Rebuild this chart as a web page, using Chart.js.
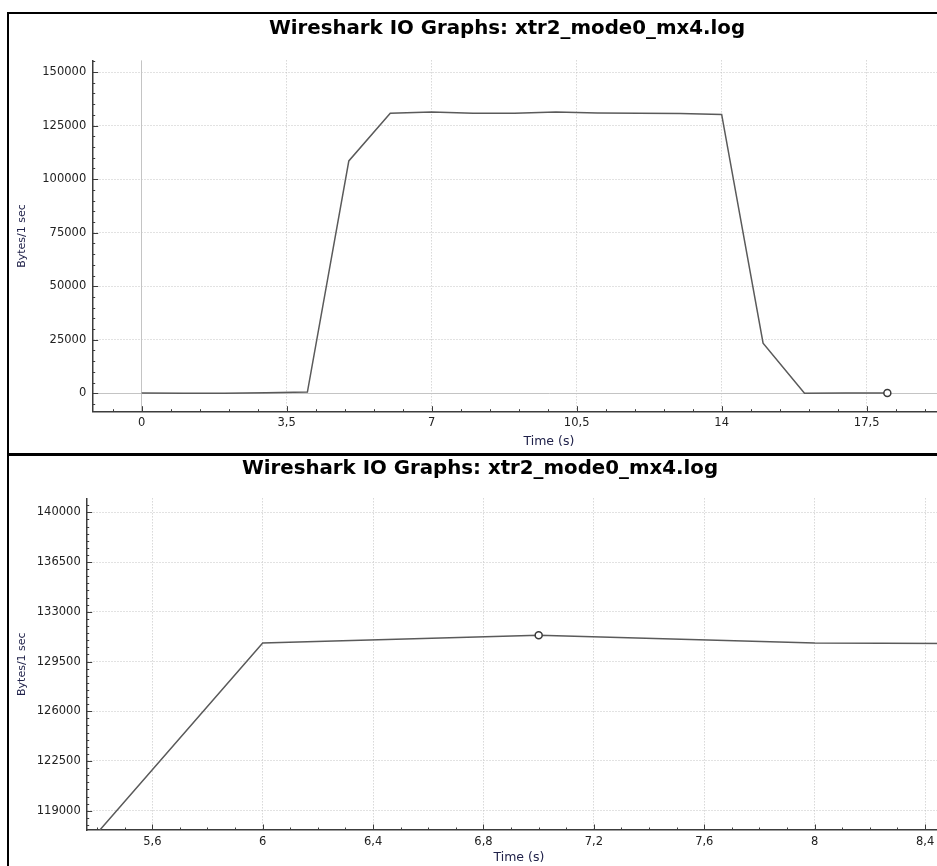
<!DOCTYPE html>
<html>
<head>
<meta charset="utf-8">
<title>Wireshark IO Graphs: xtr2_mode0_mx4.log</title>
<script src="https://cdn.jsdelivr.net/npm/chart.js@4.4.1/dist/chart.umd.min.js"></script>
<style>
  html, body { margin: 0; padding: 0; background: #fff; overflow: hidden; width: 937px; height: 866px; }
  .frame { position: absolute; left: 7px; border-left: 2px solid #000; }
  #topFrame { top: 12px; border-top: 2px solid #000; border-bottom: 3px solid #000; }
  #bottomFrame { top: 456px; }
  .box { position: relative; }
  #topFrame .box { width: 996px; height: 439px; }
  #bottomFrame .box { width: 942px; height: 415px; }
</style>
</head>
<body>
<div class="frame" id="topFrame"><div class="box"><canvas id="graficTop"></canvas></div></div>
<div class="frame" id="bottomFrame"><div class="box"><canvas id="graficBottom"></canvas></div></div>
<script>
// io graph data, one sample per second
const titulo = 'Wireshark IO Graphs: xtr2_mode0_mx4.log'
const tempos = [0, 1, 2, 3, 4, 5, 6, 7, 8, 9, 10, 11, 12, 13, 14, 15, 16, 17, 18]
const bytes = [120, 80, 60, 250, 600, 108500, 130800, 131350, 130800, 130750, 131300, 130850, 130750, 130700, 130200, 23400, 90, 160, 140]

// tick labels
const xTicksTop = [0, 3.5, 7, 10.5, 14, 17.5]
const yTicksTop = [0, 25000, 50000, 75000, 100000, 125000, 150000]
const xTicksBottom = [5.6, 6, 6.4, 6.8, 7.2, 7.6, 8, 8.4]
const yTicksBottom = [119000, 122500, 126000, 129500, 133000, 136500, 140000]

// tracer circle position (time)
const tracerTop = 18
const tracerBottom = 7

const corLinha = '#5a5a5a'
const corEixo = '#3c3c3c'
const corGrade = '#c4c4c4'

// small inward tick marks, like the qcustomplot axes
const innerTicks = {
    id: 'innerTicks',
    afterDraw(chart, args, opts) {
        const { ctx, chartArea: a, scales } = chart
        ctx.save()
        ctx.strokeStyle = corEixo
        ctx.lineWidth = 1
        const marca = (scale, valor, len) => {
            const p = Math.round(scale.getPixelForValue(valor)) + 0.5
            ctx.beginPath()
            if (scale.axis === 'x') {
                if (p < a.left || p > a.right) return
                ctx.moveTo(p, a.bottom)
                ctx.lineTo(p, a.bottom - len)
            } else {
                if (p < a.top || p > a.bottom) return
                ctx.moveTo(a.left, p)
                ctx.lineTo(a.left + len, p)
            }
            ctx.stroke()
        }
        for (const [scale, passo] of [[scales.x, opts.xMinor], [scales.y, opts.yMinor]]) {
            for (let i = Math.ceil(scale.min / passo); i * passo <= scale.max; i++) {
                marca(scale, i * passo, 2.5)
            }
            scale.ticks.forEach(t => marca(scale, t.value, 5.5))
        }
        ctx.restore()
    }
}

const virgula = v => String(v).replace('.', ',')

function criarGrafico(canvas, cfg) {
    return new Chart(canvas, {
        type: 'line',
        data: {
            datasets: [{
                data: tempos.map((t, i) => ({ x: t, y: bytes[i] })),
                borderColor: corLinha,
                borderWidth: 1.5,
                tension: 0,
                fill: false,
                pointRadius: ctx => (ctx.raw && ctx.raw.x === cfg.tracer ? 3.5 : 0),
                pointBorderColor: '#3a3a3a',
                pointBackgroundColor: '#ffffff',
                pointBorderWidth: 1.5
            }]
        },
        options: {
            responsive: true,
            maintainAspectRatio: false,
            animation: false,
            events: [],
            layout: { padding: 0, autoPadding: false },
            plugins: {
                legend: { display: false },
                tooltip: { enabled: false },
                title: {
                    display: true,
                    text: titulo,
                    color: '#000',
                    font: { family: 'DejaVu Sans', size: 19.8, weight: 'bold' },
                    padding: cfg.tituloPad
                },
                innerTicks: { xMinor: cfg.xMinor, yMinor: cfg.yMinor }
            },
            scales: {
                x: {
                    type: 'linear',
                    min: cfg.xMin,
                    max: cfg.xMax,
                    afterBuildTicks: s => { s.ticks = cfg.xTicks.map(v => ({ value: v })) },
                    afterFit: s => { s.height = cfg.xAlt },
                    grid: { color: corGrade, lineWidth: 1, drawTicks: false },
                    border: {
                        display: true, color: corEixo, width: 1.5,
                        dash: ctx => (ctx.tick && ctx.tick.value === 0 ? [] : [1, 2])
                    },
                    ticks: {
                        color: '#222', padding: 4.7, maxRotation: 0, autoSkip: false,
                        font: { family: 'DejaVu Sans', size: 11.5 },
                        callback: v => virgula(v)
                    },
                    title: {
                        display: true, text: 'Time (s)', color: '#20224a',
                        font: { family: 'DejaVu Sans', size: 12.5 },
                        padding: { top: 0, bottom: cfg.xTituloPad }
                    }
                },
                y: {
                    type: 'linear',
                    min: cfg.yMin,
                    max: cfg.yMax,
                    afterBuildTicks: s => { s.ticks = cfg.yTicks.map(v => ({ value: v })) },
                    afterFit: s => { s.width = cfg.yLarg },
                    grid: { color: corGrade, lineWidth: 1, drawTicks: false },
                    border: {
                        display: true, color: corEixo, width: 1.5,
                        dash: ctx => (ctx.tick && ctx.tick.value === 0 ? [] : [1, 2])
                    },
                    ticks: {
                        color: '#222', padding: cfg.yTickPad, autoSkip: false,
                        font: { family: 'DejaVu Sans', size: 11.5 },
                        callback: v => String(v)
                    },
                    title: {
                        display: true, text: 'Bytes/1 sec', color: '#20224a',
                        font: { family: 'DejaVu Sans', size: 11 },
                        padding: { top: 6.5, bottom: 0 }
                    }
                }
            }
        },
        plugins: [innerTicks]
    })
}

criarGrafico(document.getElementById('graficTop'), {
    tracer: tracerTop,
    xMin: -1.183, xMax: 20.84, xTicks: xTicksTop, xMinor: 0.7,
    yMin: -8580, yMax: 155460, yTicks: yTicksTop, yMinor: 5000,
    yLarg: 83.7, xAlt: 41.3, yTickPad: 6.5, xTituloPad: 3.5,
    tituloPad: { top: 3.3, bottom: 19.3 }
})

criarGrafico(document.getElementById('graficBottom'), {
    tracer: tracerBottom,
    xMin: 5.3623, xMax: 8.494, xTicks: xTicksBottom, xMinor: 0.1,
    yMin: 117643, yMax: 140984, yTicks: yTicksBottom, yMinor: 500,
    yLarg: 77.7, xAlt: 41, yTickPad: 6, xTituloPad: 5.5,
    tituloPad: { top: 1.3, bottom: 17.3 }
})
</script>
</body>
</html>
